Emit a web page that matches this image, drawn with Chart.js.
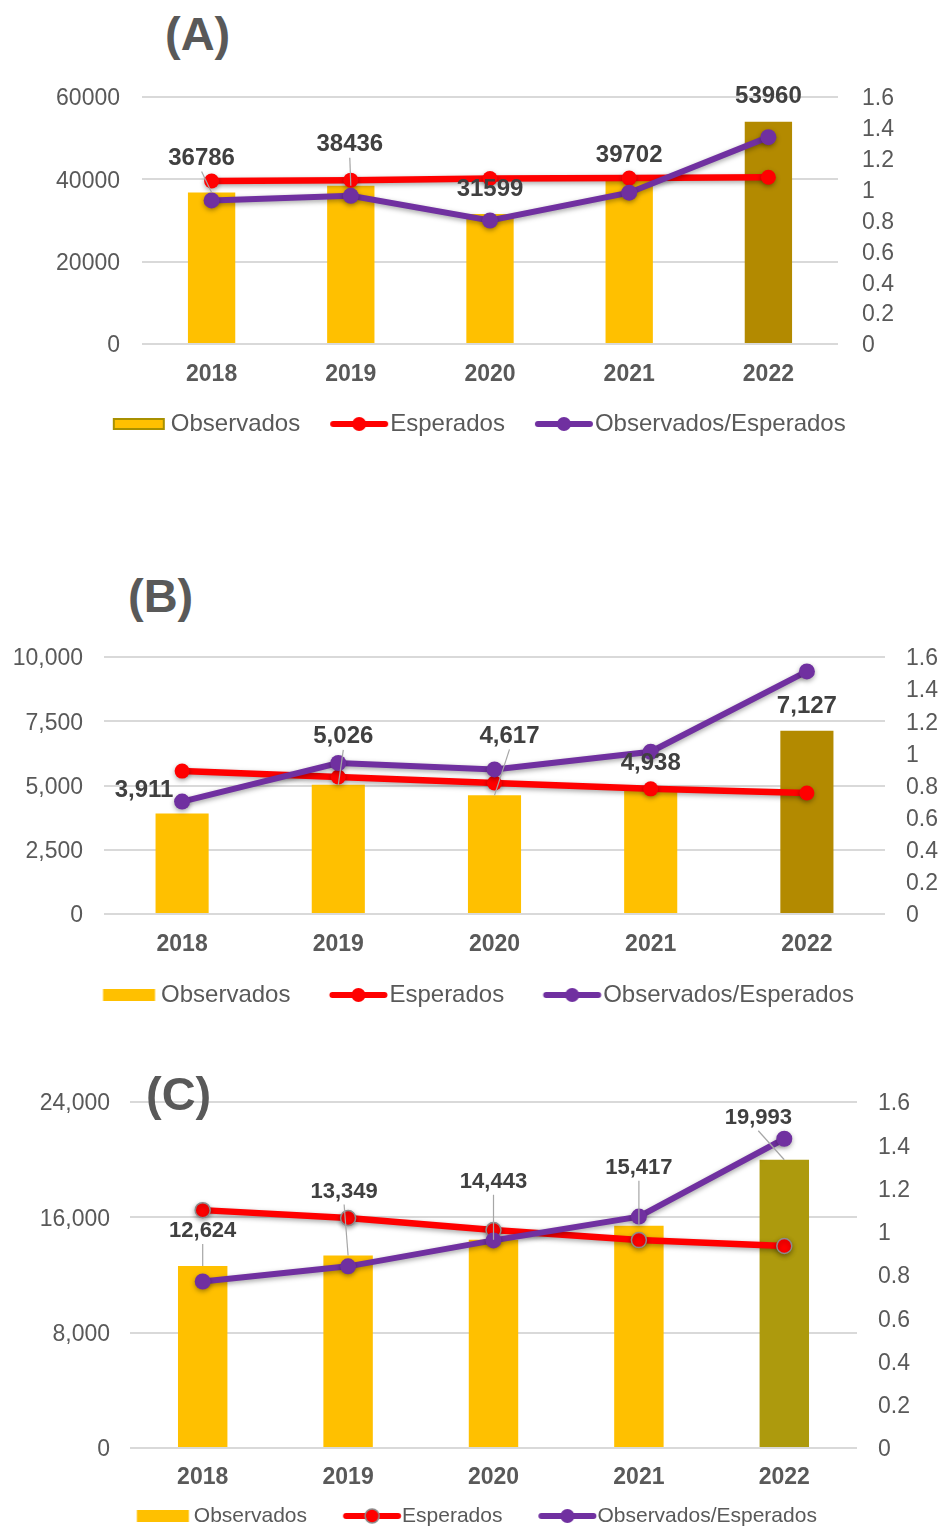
<!DOCTYPE html>
<html lang="es">
<head>
<meta charset="UTF-8">
<title>Observados vs Esperados</title>
<script src="https://cdn.jsdelivr.net/npm/chart.js"></script>
<style>
  html, body { margin: 0; padding: 0; background: #fff; overflow: hidden; }
  body { width: 940px; height: 1528px; position: relative; font-family: "Liberation Sans", Arial, sans-serif; }
  .box { position: absolute; left: 0; width: 940px; }
  .tag { position: absolute; font: bold 47px "Liberation Sans", Arial, sans-serif; color: #595959; line-height: 1; }
</style>
</head>
<body>
<div class="tag" style="left:165px; top:10px;">(A)</div>
<div class="tag" style="left:128px; top:572px;">(B)</div>
<div class="tag" style="left:146px; top:1070px; z-index:2;">(C)</div>

<div class="box" style="top:0; height:460px;"><canvas id="chartA"></canvas></div>
<div class="box" style="top:560px; height:460px;"><canvas id="chartB"></canvas></div>
<div class="box" style="top:1060px; height:480px;"><canvas id="chartC"></canvas></div>

<script>
// categories
const years = ['2018', '2019', '2020', '2021', '2022'];

// (A)
const observadosA = [36786, 38436, 31599, 39702, 53960];
const esperadosA = [39600, 39800, 40200, 40300, 40500];
const ratioA = [0.93, 0.96, 0.80, 0.98, 1.34];
const leftTicksA = [0, 20000, 40000, 60000];

// (B)
const observadosB = [3911, 5026, 4617, 4938, 7127];
const esperadosB = [5560, 5330, 5100, 4870, 4710];
const ratioB = [0.70, 0.94, 0.90, 1.01, 1.51];
const leftTicksB = [0, 2500, 5000, 7500, 10000];

// (C)
const observadosC = [12624, 13349, 14443, 15417, 19993];
const esperadosC = [16500, 15950, 15120, 14420, 14010];
const ratioC = [0.77, 0.84, 0.96, 1.07, 1.43];
const leftTicksC = [0, 8000, 16000, 24000];

const rightTicks = [0, 0.2, 0.4, 0.6, 0.8, 1, 1.2, 1.4, 1.6];

const GOLD = '#FFC000';
const RED = '#FF0000';
const PURPLE = '#7030A0';
const GRID = '#D9D9D9';
const TXT = '#595959';

// legend symbols: canvas is 2*W wide and gets centred on the legend box,
// so the symbol can sit anywhere in the item (pos = start from item left)
function legendBar(W, pos, fill, border) {
    const c = document.createElement('canvas');
    c.width = 2 * W; c.height = 20;
    const g = c.getContext('2d');
    const x0 = pos + W / 2;
    g.fillStyle = fill;
    g.fillRect(x0, 4, 52, 12);
    if (border) {
        g.strokeStyle = border;
        g.lineWidth = 2;
        g.strokeRect(x0 + 1, 5, 50, 10);
    }
    return c;
}
function legendLine(W, pos, color, ring) {
    const c = document.createElement('canvas');
    c.width = 2 * W; c.height = 20;
    const g = c.getContext('2d');
    const x0 = pos + W / 2;
    g.strokeStyle = color;
    g.lineWidth = 6;
    g.lineCap = 'round';
    g.beginPath(); g.moveTo(x0 + 3, 10); g.lineTo(x0 + 55, 10); g.stroke();
    g.fillStyle = color;
    g.beginPath(); g.arc(x0 + 29, 10, 7, 0, Math.PI * 2); g.fill();
    if (ring) {
        g.strokeStyle = ring; g.lineWidth = 1.5;
        g.beginPath(); g.arc(x0 + 29, 10, 7, 0, Math.PI * 2); g.stroke();
    }
    return c;
}

// value labels above the bars, with leader lines where the label was moved
const valueLabels = {
    id: 'valueLabels',
    afterDatasetsDraw(chart, args, opts) {
        const meta = chart.getDatasetMeta(0);
        const ctx = chart.ctx;
        ctx.save();
        ctx.font = opts.font;
        ctx.textAlign = 'center';
        ctx.textBaseline = 'middle';
        meta.data.forEach((bar, i) => {
            const v = chart.data.datasets[0].data[i];
            const [dx, dy] = opts.offsets[i];
            const lx = bar.x + dx, ly = bar.y + dy;
            if (opts.leaders[i]) {
                ctx.strokeStyle = '#A6A6A6';
                ctx.lineWidth = 1.2;
                ctx.beginPath();
                ctx.moveTo(lx, ly + 13);
                ctx.lineTo(bar.x, bar.y);
                ctx.stroke();
            }
            ctx.fillStyle = '#404040';
            ctx.fillText(opts.format(v), lx, ly);
        });
        ctx.restore();
    }
};

// soft shadow under the two lines
const lineShadow = {
    id: 'lineShadow',
    beforeDatasetDraw(chart, args) {
        if (args.meta.type !== 'line') return;
        const ctx = chart.ctx;
        ctx.save();
        ctx.shadowColor = 'rgba(0,0,0,0.35)';
        ctx.shadowBlur = 5;
        ctx.shadowOffsetY = 2;
    },
    afterDatasetDraw(chart, args) {
        if (args.meta.type !== 'line') return;
        chart.ctx.restore();
    }
};

function makeChart(id, cfg) {
    const barColors = years.map((y, i) => i === years.length - 1 ? cfg.lastBar : GOLD);
    const fmt = cfg.commas ? (v => v.toLocaleString('en-US')) : (v => String(v));
    const W = cfg.symW;
    const legendItems = [
        { text: 'Observados', pointStyle: legendBar(W, cfg.barPos, GOLD, cfg.legendBorder), datasetIndex: 0 },
        { text: 'Esperados', pointStyle: legendLine(W, cfg.linePos, RED, cfg.redRing), datasetIndex: 1 },
        { text: 'Observados/Esperados' + (cfg.tail || ''), pointStyle: legendLine(W, cfg.linePos, PURPLE), datasetIndex: 2 }
    ];
    return new Chart(document.getElementById(id), {
        type: 'bar',
        data: {
            labels: years,
            datasets: [
                {
                    type: 'bar',
                    label: 'Observados',
                    data: cfg.obs,
                    backgroundColor: barColors,
                    barPercentage: 0.34,
                    categoryPercentage: 1,
                    yAxisID: 'y',
                    order: 3
                },
                {
                    type: 'line',
                    label: 'Esperados',
                    data: cfg.esp,
                    borderColor: RED,
                    backgroundColor: RED,
                    borderWidth: 6.5,
                    pointRadius: 7.5,
                    pointBorderColor: cfg.redRing || RED,
                    pointBorderWidth: cfg.redRing ? 1.5 : 0,
                    yAxisID: 'y',
                    order: 2
                },
                {
                    type: 'line',
                    label: 'Observados/Esperados',
                    data: cfg.ratio,
                    borderColor: PURPLE,
                    backgroundColor: PURPLE,
                    borderWidth: 6,
                    pointRadius: 8,
                    pointBorderWidth: 0,
                    yAxisID: 'y1',
                    order: 1
                }
            ]
        },
        options: {
            responsive: true,
            maintainAspectRatio: false,
            animation: false,
            layout: { padding: { top: cfg.padTop, bottom: cfg.padBottom, left: 0, right: cfg.padRight } },
            scales: {
                x: {
                    grid: { display: false, drawTicks: false },
                    border: { display: false },
                    ticks: { color: TXT, font: { family: 'Liberation Sans, Arial', size: 23, weight: 'bold' }, padding: cfg.xPad },
                    afterFit(s) { s.height = cfg.xHeight; }
                },
                y: {
                    position: 'left',
                    min: cfg.leftTicks[0],
                    max: cfg.leftTicks[cfg.leftTicks.length - 1],
                    afterBuildTicks(s) { s.ticks = cfg.leftTicks.map(v => ({ value: v })); },
                    grid: { color: GRID, lineWidth: 2, drawTicks: false },
                    border: { display: false },
                    ticks: { color: TXT, font: { family: 'Liberation Sans, Arial', size: 23 }, padding: cfg.leftPad, labelOffset: 2, callback: v => fmt(v) },
                    afterFit(s) { s.width = cfg.leftWidth; }
                },
                y1: {
                    position: 'right',
                    min: 0,
                    max: 1.6,
                    afterBuildTicks(s) { s.ticks = rightTicks.map(v => ({ value: v })); },
                    grid: { display: false, drawTicks: false },
                    border: { display: false },
                    ticks: { color: TXT, font: { family: 'Liberation Sans, Arial', size: 23 }, padding: cfg.rightPad, labelOffset: 2, callback: v => String(+v.toFixed(1)) },
                    afterFit(s) { s.width = cfg.rightWidth; }
                }
            },
            plugins: {
                title: { display: false },
                tooltip: { enabled: false },
                legend: {
                    position: 'bottom',
                    labels: {
                        usePointStyle: true,
                        pointStyleWidth: W,
                        padding: 4,
                        color: TXT,
                        font: { family: 'Liberation Sans, Arial', size: cfg.legendSize },
                        generateLabels: () => legendItems.map(it => ({
                            text: it.text,
                            pointStyle: it.pointStyle,
                            fillStyle: 'transparent',
                            strokeStyle: 'transparent',
                            lineWidth: 0,
                            fontColor: TXT,
                            datasetIndex: it.datasetIndex,
                            hidden: false
                        }))
                    }
                },
                valueLabels: {
                    font: cfg.labelFont,
                    offsets: cfg.offsets,
                    leaders: cfg.leaders,
                    format: fmt
                }
            }
        },
        plugins: [valueLabels, lineShadow]
    });
}

makeChart('chartA', {
    obs: observadosA, esp: esperadosA, ratio: ratioA, leftTicks: leftTicksA,
    commas: false, lastBar: '#B38A00', legendBorder: '#A89000',
    padTop: 97, padBottom: 14, padRight: 9.5,
    leftWidth: 142, leftPad: 22, rightWidth: 92.5, rightPad: 24,
    xHeight: 64, xPad: 17,
    legendSize: 24, symW: 74, barPos: 28, linePos: 26,
    labelFont: 'bold 24px "Liberation Sans", Arial, sans-serif',
    offsets: [[-10, -34], [-1, -41], [0, -25], [0, -25], [0, -25]],
    leaders: [1, 1, 0, 0, 0]
});

makeChart('chartB', {
    obs: observadosB, esp: esperadosB, ratio: ratioB, leftTicks: leftTicksB,
    commas: true, lastBar: '#B38A00',
    padTop: 97, padBottom: 3, padRight: 0,
    leftWidth: 104, leftPad: 21, rightWidth: 55, rightPad: 21,
    xHeight: 65, xPad: 17,
    legendSize: 24, symW: 83, barPos: 37, linePos: 35, tail: '   ',
    labelFont: 'bold 24px "Liberation Sans", Arial, sans-serif',
    offsets: [[-38, -23], [5, -48], [15, -59], [0, -24], [0, -24]],
    leaders: [0, 1, 1, 0, 0]
});

makeChart('chartC', {
    obs: observadosC, esp: esperadosC, ratio: ratioC, leftTicks: leftTicksC,
    commas: true, lastBar: '#AD9A0D', redRing: '#8C8C8C',
    padTop: 42, padBottom: 3.5, padRight: 20.3,
    leftWidth: 130, leftPad: 20, rightWidth: 62.7, rightPad: 21,
    xHeight: 53.5, xPad: 16,
    legendSize: 21, symW: 80.5, barPos: 34, linePos: 32,
    labelFont: 'bold 22px "Liberation Sans", Arial, sans-serif',
    offsets: [[0, -35], [-4, -64], [0, -58], [0, -58], [-26, -42]],
    leaders: [1, 1, 1, 1, 1]
});
</script>
</body>
</html>
